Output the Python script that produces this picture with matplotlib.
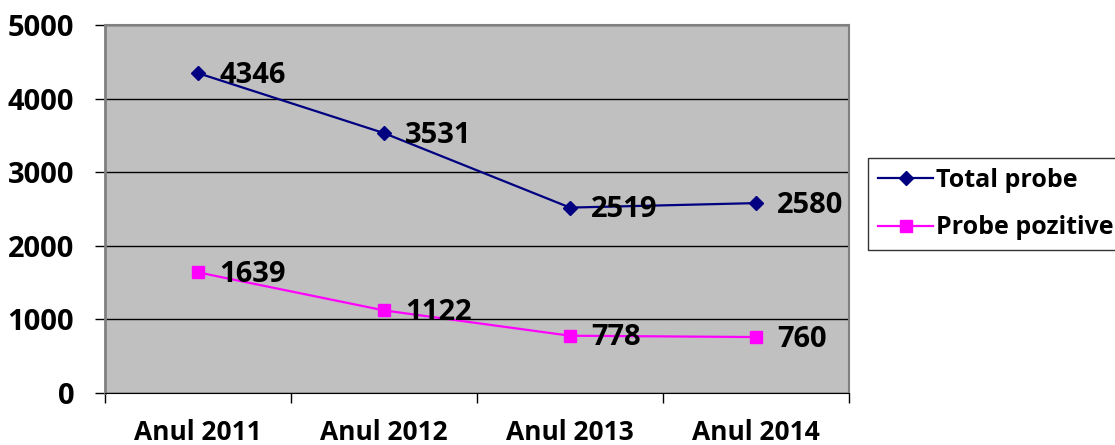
import matplotlib

matplotlib.use("Agg")

import matplotlib.pyplot as plt
import numpy as np

YEARS = ["Anul 2011", "Anul 2012", "Anul 2013", "Anul 2014"]
TOTAL_PROBE = [4346, 3531, 2519, 2580]
PROBE_POZITIVE = [1639, 1122, 778, 760]
Y_TICKS = [0, 1000, 2000, 3000, 4000, 5000]

NAVY = "#000080"
MAGENTA = "#FF00FF"
PLOT_BG = "#C0C0C0"
FS = 19

plt.rcParams["font.family"] = ["Open Sans", "DejaVu Sans"]
plt.rcParams["font.weight"] = "bold"

fig = plt.figure(figsize=(11.15, 4.45), dpi=100)
ax = fig.add_axes([0.0942, 0.1169, 0.6672, 0.8269])
ax.set_facecolor(PLOT_BG)

x = np.arange(len(YEARS))
ax.plot(x, TOTAL_PROBE, color=NAVY, lw=1.6, marker="D", ms=7,
        label="Total probe", zorder=3)
ax.plot(x, PROBE_POZITIVE, color=MAGENTA, lw=1.6, marker="s", ms=8,
        label="Probe pozitive", zorder=3)

for series in (TOTAL_PROBE, PROBE_POZITIVE):
    for xi, v in zip(x, series):
        ax.annotate(str(v), (xi, v), xytext=(21, -2), textcoords="offset pixels",
                    ha="left", va="center", fontsize=21, fontweight="bold",
                    zorder=4)

ax.set_xlim(-0.5, len(YEARS) - 0.5)
ax.set_ylim(0, 5000)
ax.set_yticks(Y_TICKS)
ax.set_yticklabels([str(t) for t in Y_TICKS], fontsize=21, fontweight="bold")
ax.yaxis.grid(True, color="black", lw=1)
ax.set_axisbelow(True)

ax.set_xticks(x)
ax.set_xticklabels(YEARS, fontsize=FS, fontweight="bold")
ax.set_xticks(np.arange(len(YEARS) + 1) - 0.5, minor=True)
ax.tick_params(axis="x", which="major", length=0, pad=19)
ax.tick_params(axis="x", which="minor", length=7.2, width=1, direction="out")
ax.tick_params(axis="y", length=7.2, width=1, direction="out", pad=15)

for side in ("left", "top", "right"):
    ax.spines[side].set_color("#808080")
ax.spines["left"].set_linewidth(2)
ax.spines["top"].set_linewidth(1.5)
ax.spines["right"].set_linewidth(1.5)
ax.spines["bottom"].set_color("black")

leg = fig.legend(loc="upper left", bbox_to_anchor=(0.7785, 0.645),
                 fontsize=FS - 1, frameon=True, fancybox=False, handlelength=2.2,
                 handletextpad=0.1, borderpad=0.4, labelspacing=0.9,
                 borderaxespad=0)
leg.get_frame().set_edgecolor("black")
leg.get_frame().set_linewidth(1)
for t in leg.get_texts():
    t.set_fontweight("bold")

fig.savefig("out.png", dpi=100)
